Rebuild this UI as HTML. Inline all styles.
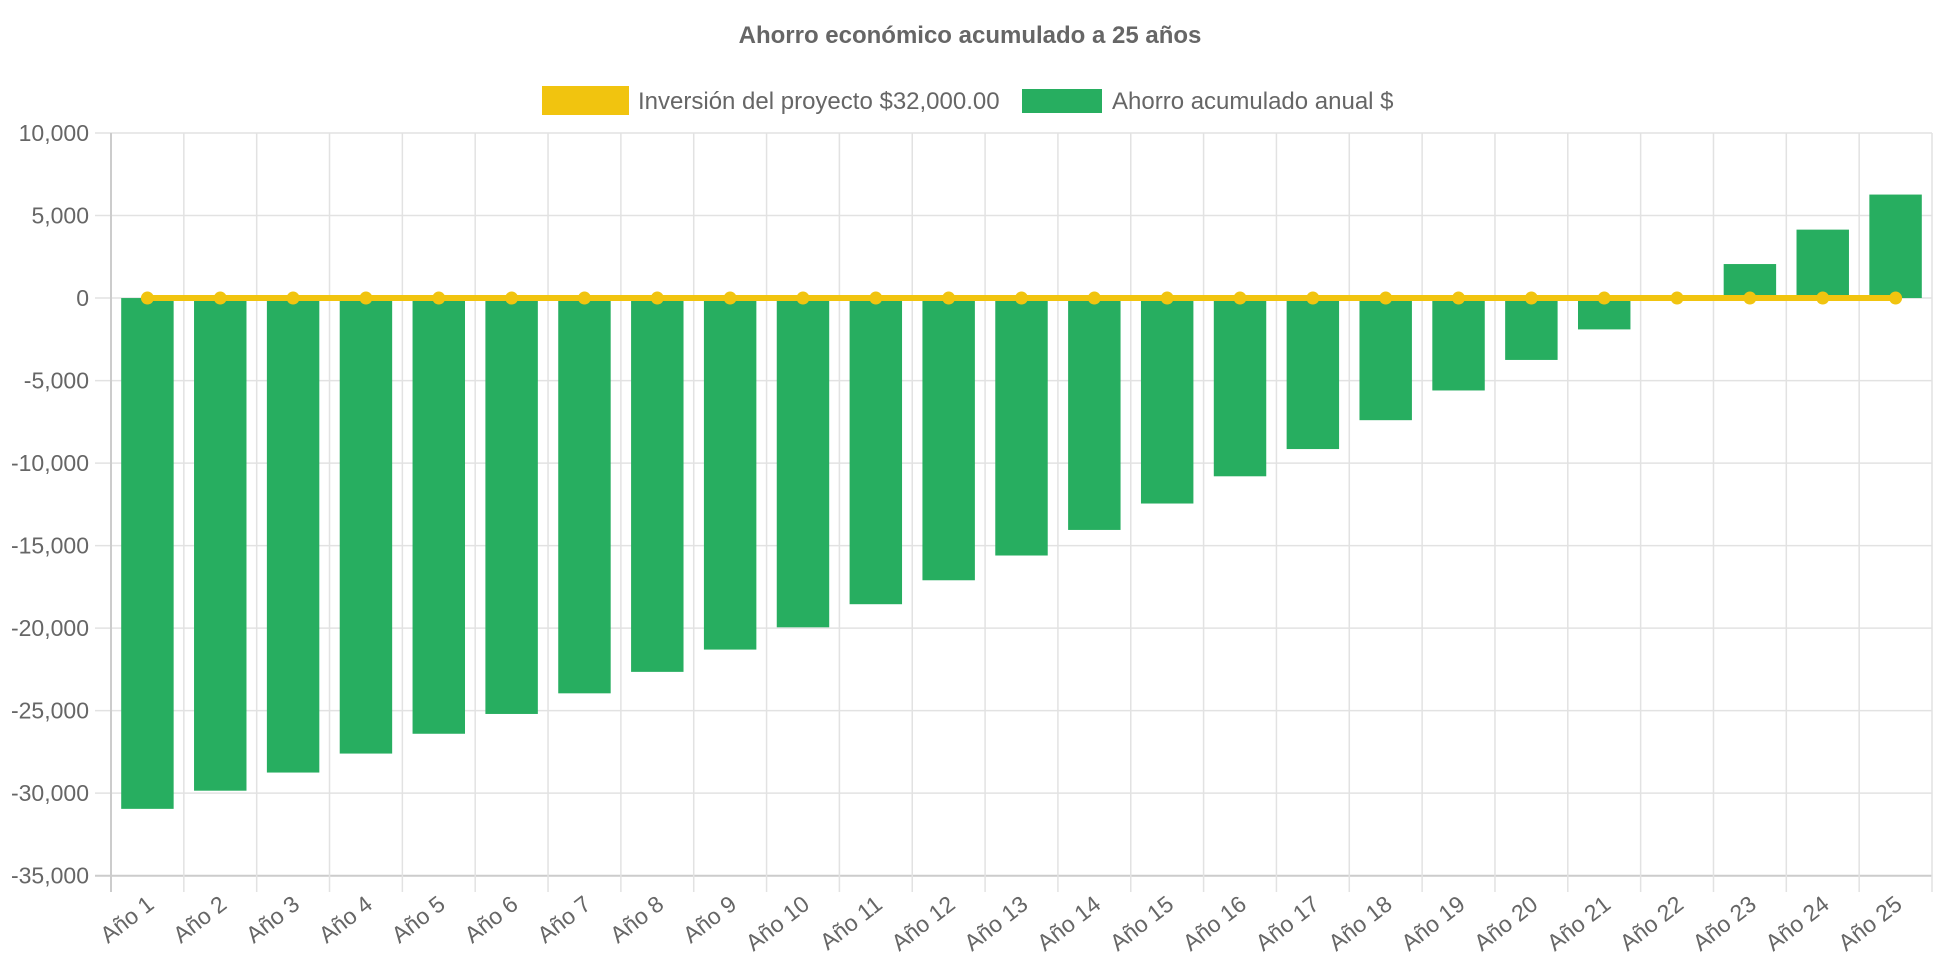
<!DOCTYPE html>
<html><head><meta charset="utf-8"><style>
body{margin:0;background:#fff;width:1942px;height:970px;overflow:hidden}
svg{display:block;font-family:"Liberation Sans",Arial,sans-serif}
</style></head><body>
<svg id="chart" width="1942" height="970">
<text x="970" y="43" text-anchor="middle" font-size="24" font-weight="bold" fill="#666">Ahorro económico acumulado a 25 años</text>
<g>
<g><rect x="542" y="86" width="87" height="29" fill="#f1c40f"/><text x="638" y="109" font-size="24" fill="#666">Inversión del proyecto $32,000.00</text></g>
<g><rect x="1022" y="89" width="80" height="24" fill="#27ae60"/><text x="1112" y="109" font-size="24" fill="#666">Ahorro acumulado anual $</text></g>
</g>
<g id="grid"></g><g id="bars"></g><g id="line"></g><g id="labels"></g>
</svg>
<script>
const categories=["Año 1","Año 2","Año 3","Año 4","Año 5","Año 6","Año 7","Año 8","Año 9","Año 10","Año 11","Año 12","Año 13","Año 14","Año 15","Año 16","Año 17","Año 18","Año 19","Año 20","Año 21","Año 22","Año 23","Año 24","Año 25"];
const savings=[-30950,-29850,-28750,-27600,-26400,-25200,-23950,-22650,-21300,-19950,-18550,-17100,-15600,-14050,-12450,-10800,-9150,-7400,-5600,-3750,-1900,0,2060,4145,6270];
const investmentLine=[0,0,0,0,0,0,0,0,0,0,0,0,0,0,0,0,0,0,0,0,0,0,0,0,0];
const yTicks=[10000,5000,0,-5000,-10000,-15000,-20000,-25000,-30000,-35000];
const yMin=-35000,yMax=10000;
const plotL=111,plotR=1932,plotT=133,plotB=875.7;
const NS="http://www.w3.org/2000/svg";
const catW=(plotR-plotL)/categories.length;
function yS(v){return plotT+(yMax-v)/(yMax-yMin)*(plotB-plotT);}
function xc(i){return plotL+catW*(i+0.5);}
function mk(t,a,p){const e=document.createElementNS(NS,t);for(const k in a)e.setAttribute(k,a[k]);p.appendChild(e);return e;}
const gGrid=document.getElementById('grid'),gBars=document.getElementById('bars'),gLine=document.getElementById('line'),gLabels=document.getElementById('labels');
yTicks.forEach(t=>{
 const l=mk('line',{x1:95,x2:plotR,y1:yS(t),y2:yS(t),stroke:t===-35000?'#ccc':'#e2e2e2','stroke-width':t===-35000?2:1.5},gGrid);
 
 
 const tx=mk('text',{x:89,y:yS(t)+8,'text-anchor':'end','font-size':23,fill:'#666'},gLabels);
 tx.textContent=t.toLocaleString('en-US');
 
 
});
for(let i=0;i<=categories.length;i++){
 const x=plotL+catW*i;
 const l=mk('line',{x1:x,x2:x,y1:plotT,y2:892,stroke:i===0?'#ccc':'#e2e2e2','stroke-width':i===0?2:1.5},gGrid);
 
 
}
const bw=catW*0.72;
savings.forEach((v,i)=>{
 const y0=yS(0),y1=yS(v);
 const r=mk('rect',{x:xc(i)-bw/2,y:Math.min(y0,y1),width:bw,height:Math.abs(y1-y0),fill:'#27ae60'},gBars);
 
 
});
const pts=investmentLine.map((v,i)=>xc(i)+','+yS(v)).join(' ');
const pl=mk('polyline',{points:pts,fill:'none',stroke:'#f1c40f','stroke-width':6},gLine);


investmentLine.forEach((v,i)=>{
 const c=mk('circle',{cx:xc(i),cy:yS(v),r:6.5,fill:'#f1c40f'},gLine);
 
 
});
categories.forEach((c,i)=>{
 const x=xc(i)+8,yy=907;
 const t=mk('text',{x:x,y:yy,'text-anchor':'end','font-size':23,fill:'#666',transform:'rotate(-38 '+x+' '+yy+')'},gLabels);
 t.textContent=c;
 
 
});
</script>
</body></html>
